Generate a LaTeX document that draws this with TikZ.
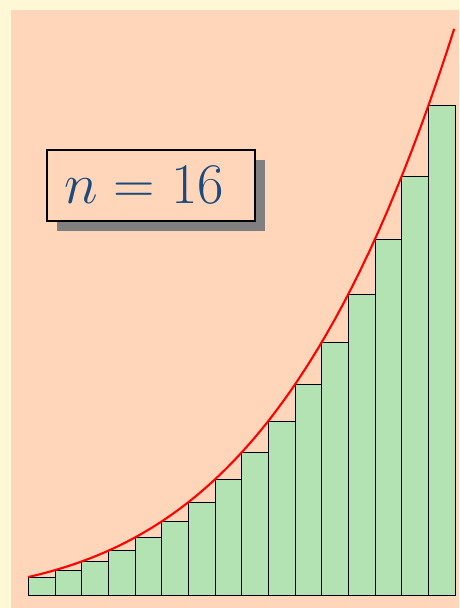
\documentclass[tikz,border=0pt]{standalone}
\usetikzlibrary{shadows}
\definecolor{cream}{RGB}{255,248,214}
\definecolor{peach}{RGB}{255,214,186}
\definecolor{bargreen}{RGB}{179,227,179}
\definecolor{labelblue}{RGB}{28,74,124}
\definecolor{shadowgray}{RGB}{128,128,128}
\begin{document}
\begin{tikzpicture}[x=1pt,y=-1pt,
  bar/.style={fill=bargreen,draw=black,line width=0.8pt},
  curve/.style={red,line width=2.1pt,line join=round},
  labelbox/.style={draw=black,line width=2.2pt,fill=peach,
    minimum width=208.3pt,minimum height=70.7pt,
    text width=173pt,align=left,inner xsep=17.6pt,inner ysep=0pt,
    text=labelblue,font=\Huge,
    drop shadow={shadow xshift=10pt,shadow yshift=-10pt,fill=shadowgray,opacity=1}}]
\useasboundingbox (0,0) rectangle (459,608);
\fill[cream] (0,0) rectangle (459,608);
\fill[peach] (11,10) rectangle (459,608);
\foreach \i in {0,...,15}{
  \pgfmathsetmacro\xl{28.33+26.667*\i}
  \pgfmathsetmacro\xr{28.33+26.667*(\i+1)}
  \pgfmathsetmacro\yt{595.5-(1.971+2.402*\i/16)^4.3}
  \draw[bar] (\xl,595.5) rectangle (\xr,\yt);
}
\draw[curve] plot[domain=0:1,samples=150,smooth] ({28.33+426.67*\x},{595.5-(1.971+2.402*\x)^4.3});
\node[labelbox] (lbl) at (150.85,185.35) {\scalebox{2.31}{$n = 16$}};
\end{tikzpicture}
\end{document}
